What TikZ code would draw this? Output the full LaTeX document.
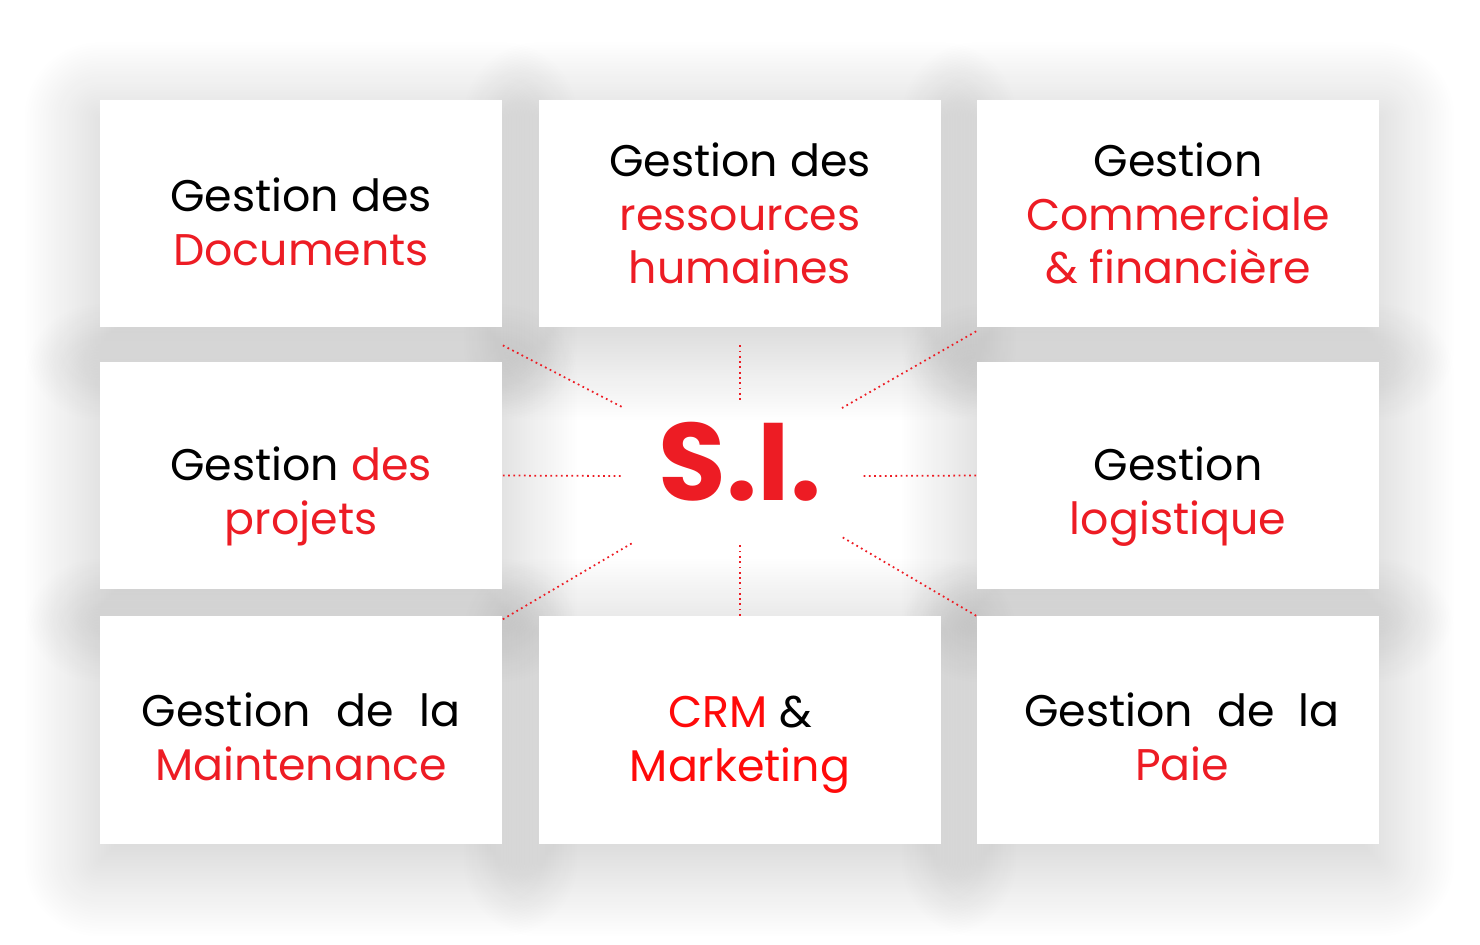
\documentclass[tikz,border=0pt]{standalone}
\usepackage{fontspec}
\setmainfont{Poppins}
\usetikzlibrary{shadows.blur,backgrounds}

\definecolor{rouge}{HTML}{ED1C24}
\definecolor{rougevif}{HTML}{FF0A0A}
\newcommand{\rg}[1]{\textcolor{rouge}{#1}}

\tikzset{
  module/.style={fill=white, minimum width=4.02cm, minimum height=2.27cm,
    inner sep=0pt},
  texte/.style={align=center, inner sep=0pt,
    font=\fontsize{12.6}{15.3}\selectfont},
  ombre/.style={blur shadow={shadow xshift=0pt, shadow yshift=-5pt,
      shadow blur radius=22pt, shadow blur steps=30, shadow opacity=22}},
  liaison/.style={rouge, densely dotted, line width=0.5pt}
}

\begin{document}
\begin{tikzpicture}[x=0.01cm,y=-0.01cm]
\useasboundingbox (0,0) rectangle (1480,944);

%modules
\node[module, label={[texte,yshift=-0.08cm]center:{Gestion des\\ \rg{Documents}}}] (docs) at (301,213.5) {};
\node[module, label={[texte]center:{Gestion des\\ \rg{ressources}\\ \rg{humaines}}}] (rh) at (740,213.5) {};
\node[module, label={[texte]center:{Gestion\\ \rg{Commerciale}\\ \rg{\& financière}}}] (com) at (1178,213.5) {};
\node[module, label={[texte,yshift=-0.21cm]center:{Gestion \rg{des}\\ \rg{projets}}}] (proj) at (301,475.5) {};
\node[module, label={[texte,yshift=-0.21cm]center:{Gestion\\ \rg{logistique}}}] (logi) at (1178,475.5) {};
\node[module, label={[texte,yshift=-0.07cm]center:{\makebox[3.18cm][s]{Gestion de la}\\ \rg{Maintenance}}}] (maint) at (301,730) {};
\node[module, label={[texte,yshift=-0.15cm]center:{\textcolor{rougevif}{CRM} \&\\ \textcolor{rougevif}{Marketing}}}] (crm) at (740,730) {};
\node[module, label={[texte,xshift=0.04cm,yshift=-0.07cm]center:{\makebox[3.15cm][s]{Gestion de la}\\ \rg{Paie}}}] (paie) at (1178,730) {};

%ombres
\begin{pgfonlayer}{background}
\foreach \m in {docs,rh,com,proj,logi,maint,crm,paie}
  \path[ombre] (\m.north west) rectangle (\m.south east);
\end{pgfonlayer}

%S.I.
\node[text=rouge, font=\fontsize{31.3}{33}\selectfont\bfseries] (si) at (740,462) {S.I.};

\coordinate (si-nw) at (624,408);
\coordinate (si-n) at (740,400);
\coordinate (si-ne) at (842,408);
\coordinate (si-w) at (624,476);
\coordinate (si-e) at (862,476);
\coordinate (si-sw) at (634,542);
\coordinate (si-s) at (740,545);
\coordinate (si-se) at (842,537);

\draw[liaison] ([yshift=-5pt]docs.south east) -- (si-nw);
\draw[liaison] ([yshift=-5pt]rh.south) -- (si-n);
\draw[liaison] ([yshift=-1pt]com.south west) -- (si-ne);
\draw[liaison] (proj.east) -- (si-w);
\draw[liaison] (logi.west) -- (si-e);
\draw[liaison] ([yshift=-1pt]maint.north east) -- (si-sw);
\draw[liaison] (crm.north) -- (si-s);
\draw[liaison] (paie.north west) -- (si-se);

\end{tikzpicture}
\end{document}
